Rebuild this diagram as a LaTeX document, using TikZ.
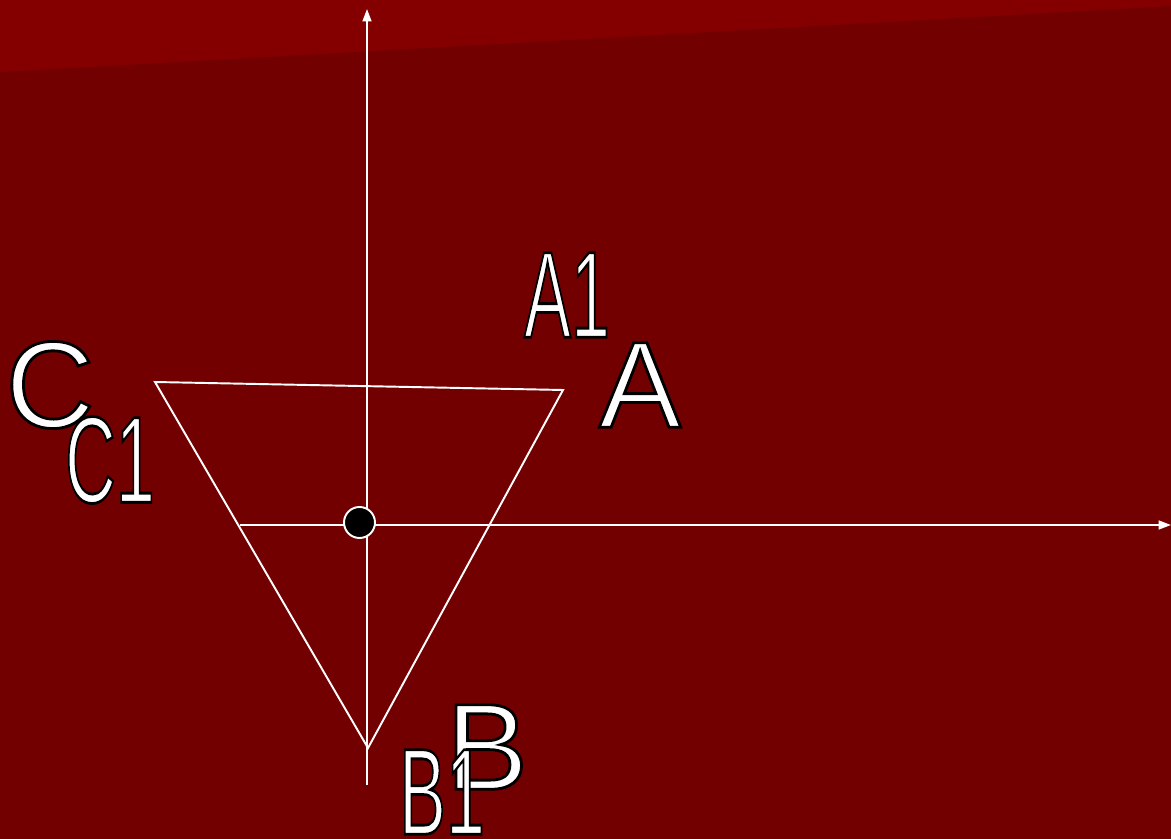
\documentclass[tikz,border=0pt]{standalone}
\usepackage{fontspec}
\setmainfont{Liberation Sans}
\usepackage{xcolor}
\usepackage{tikz}
\usetikzlibrary{arrows.meta,positioning,calc}
\definecolor{slidered}{HTML}{730000}
\definecolor{bandred}{HTML}{840000}
% white letters with a thin black rim
\newcommand{\rimtext}[1]{\special{pdf:literal direct 2 Tr 1.6 w 0 0 0 RG}#1\special{pdf:literal direct 0 Tr}}

\begin{document}
\begin{tikzpicture}[
  axis/.style={white, line width=1.1pt, -{Triangle[length=7pt, width=5pt]}},
  edge/.style={white, line width=1.1pt, line join=miter},
  lbl/.style={text=white, inner sep=0pt, font=\fontsize{70}{70}\selectfont},
  sublbl/.style={lbl, xscale=0.57},
  dot/.style={circle, fill=black, draw=white, line width=1.1pt, minimum size=0.62cm, inner sep=0pt},
]

% ── Background ──
\fill[slidered] (-7.34,-6.28) rectangle (16.08,10.5);
\fill[bandred] (-7.34,10.5) -- (16.08,10.5) -- (16.08,10.38) -- (-7.34,9.06) -- cycle;
\useasboundingbox (-7.34,-6.28) rectangle (16.08,10.5);

% ── Axes ──
\coordinate (xstart) at (-2.54,0);
\coordinate (xend) at (16.08,0);
\coordinate (ystart) at (0,-5.2);
\coordinate (yend) at (0,10.32);
\draw[axis] (xstart) -- (xend);
\draw[axis] (ystart) -- (yend);

% ── Triangle ──
\coordinate (C) at (-4.24,2.86);
\coordinate (A) at (3.92,2.70);
\coordinate (B) at (0.02,-4.46);
\draw[edge] (C) -- (A) -- (B) -- cycle;

\node[dot] (centre) at (-0.15,0.05) {};

% ── Labels ──
\node[lbl] (labA) at (5.46,2.8) {\rimtext{A}};
\node[lbl] (labB) at (2.4,-4.44) {\rimtext{B}};
\node[lbl] (labC) at (-6.34,2.8) {\rimtext{C}};
\node[sublbl] (labAone) at (4.0,4.6) {\rimtext{A1}};
\node[sublbl] (labBone) at (1.5,-5.34) {\rimtext{B1}};
\node[sublbl] (labCone) at (-5.14,1.3) {\rimtext{C1}};

\end{tikzpicture}
\end{document}
